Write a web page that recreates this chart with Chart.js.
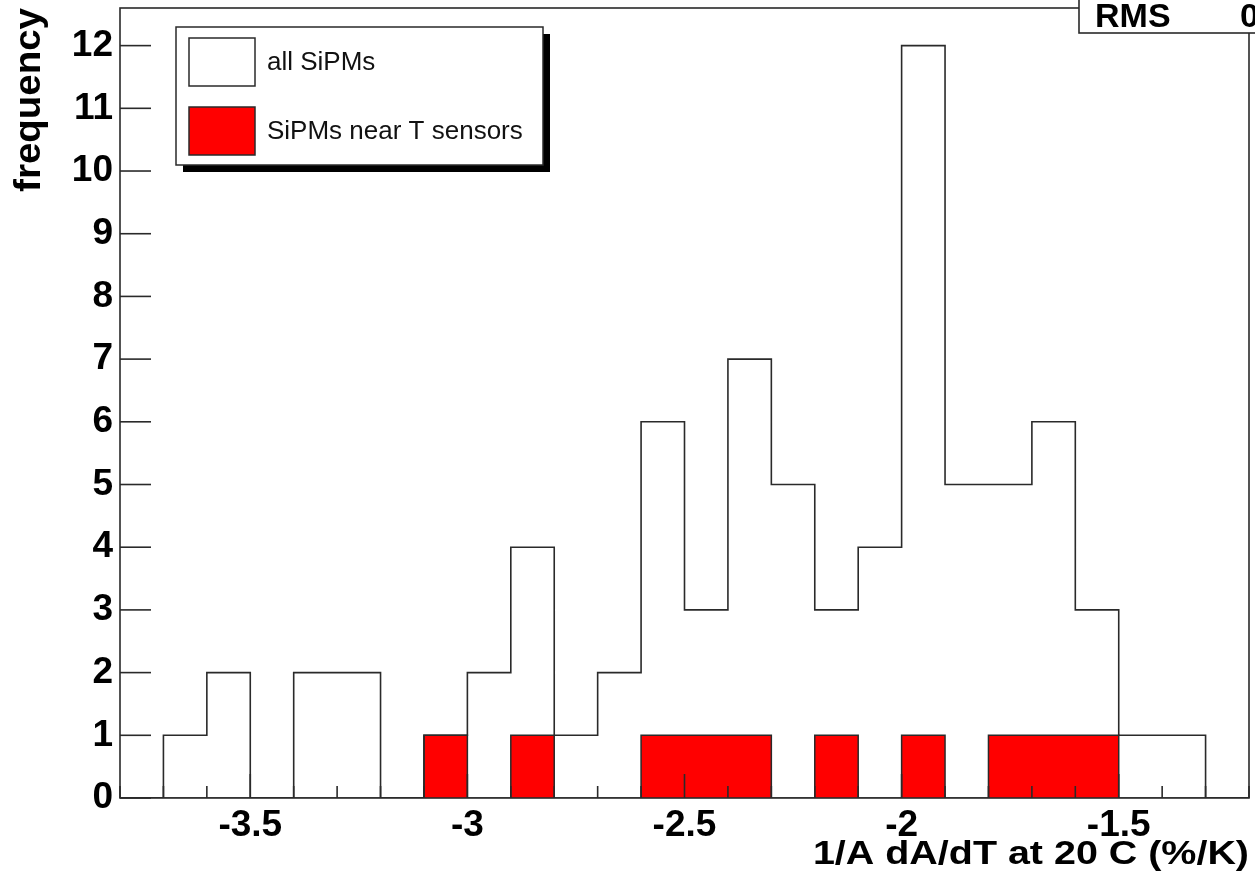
<!DOCTYPE html>
<html>
<head>
<meta charset="utf-8">
<script src="https://cdn.jsdelivr.net/npm/chart.js@4.4.0/dist/chart.umd.min.js"></script>
<style>
html,body{margin:0;padding:0;background:#fff;}
#wrap{width:1255px;height:886px;position:relative;}
</style>
</head>
<body>
<div id="wrap"><canvas id="c" width="1255" height="886"></canvas></div>
<script>
// ---- data ----
const binLow = [-3.8,-3.7,-3.6,-3.5,-3.4,-3.3,-3.2,-3.1,-3.0,-2.9,-2.8,-2.7,-2.6,-2.5,-2.4,-2.3,-2.2,-2.1,-2.0,-1.9,-1.8,-1.7,-1.6,-1.5,-1.4,-1.3];
const binWidth = 0.1;
const allCounts  = [0,1,2,0,2,2,0,1,2,4,1,2,6,3,7,5,3,4,12,5,5,6,3,1,1,0];
const nearCounts = [0,0,0,0,0,0,0,1,0,1,0,0,1,1,1,0,1,0,1,0,1,1,1,0,0,0];
const xTickValues = [-3.5,-3,-2.5,-2,-1.5];
const yTickValues = [0,1,2,3,4,5,6,7,8,9,10,11,12];
const seriesLabels = ['all SiPMs','SiPMs near T sensors'];
const xTitle = '1/A dA/dT at 20 C (%/K)';
const yTitle = 'frequency';
const statsLabel = 'RMS';
const statsValue = '0';

const X_MIN = -3.8, X_MAX = -1.2, Y_MIN = 0, Y_MAX = 12.6;
const LINE = '#2a2a2a';
const FONT = '"Liberation Sans", Arial, Helvetica, sans-serif';

function stepData(counts){
  const pts = binLow.map((x,i)=>({x:x, y:counts[i]}));
  pts.push({x: binLow[binLow.length-1] + binWidth, y: counts[counts.length-1]});
  return pts;
}

const rootPlugin = {
  id:'rootDecor',
  beforeDraw(chart){
    const ctx = chart.ctx;
    ctx.save();
    ctx.fillStyle = '#fff';
    ctx.fillRect(0,0,chart.width,chart.height);
    ctx.restore();
  },
  afterDraw(chart){
    const ctx = chart.ctx, a = chart.chartArea, xs = chart.scales.x, ys = chart.scales.y;
    ctx.save();
    ctx.strokeStyle = LINE;
    ctx.lineWidth = 1.6;
    // y ticks (inside)
    yTickValues.forEach(v=>{
      const py = ys.getPixelForValue(v);
      ctx.beginPath(); ctx.moveTo(a.left, py); ctx.lineTo(a.left+31, py); ctx.stroke();
    });
    // x ticks (inside): minor every 0.1, major every 0.5
    for(let k=0;k<=26;k++){
      const v = X_MIN + k*0.1;
      const px = xs.getPixelForValue(v);
      const major = Math.abs(v*2 - Math.round(v*2)) < 1e-6;
      const len = major ? 24 : 12;
      ctx.beginPath(); ctx.moveTo(px, a.bottom); ctx.lineTo(px, a.bottom-len); ctx.stroke();
    }
    // frame
    ctx.strokeRect(a.left, a.top, a.right-a.left, a.bottom-a.top);

    // stats box (cut at the top right)
    ctx.fillStyle = '#fff';
    ctx.fillRect(1079, -4, 200, 37);
    ctx.strokeRect(1079, -4, 200, 37);
    ctx.fillStyle = '#000';
    ctx.font = 'bold 34px ' + FONT;
    ctx.textBaseline = 'alphabetic';
    ctx.textAlign = 'left';
    ctx.fillText(statsLabel, 1095, 27);
    ctx.fillText(statsValue, 1240, 27);

    // legend with shadow
    const lx = 176, ly = 27, lw = 367, lh = 138;
    ctx.fillStyle = '#000';
    ctx.fillRect(lx+7, ly+7, lw, lh);
    ctx.fillStyle = '#fff';
    ctx.fillRect(lx, ly, lw, lh);
    ctx.lineWidth = 1.5;
    ctx.strokeRect(lx, ly, lw, lh);
    // entry 1
    ctx.fillStyle = '#fff';
    ctx.fillRect(189, 38, 66, 48);
    ctx.strokeRect(189, 38, 66, 48);
    // entry 2
    ctx.fillStyle = '#ff0000';
    ctx.fillRect(189, 107, 66, 48);
    ctx.strokeRect(189, 107, 66, 48);
    ctx.fillStyle = '#111';
    ctx.font = '26px ' + FONT;
    ctx.textBaseline = 'middle';
    ctx.fillText(seriesLabels[0], 267, 63);
    ctx.fillText(seriesLabels[1], 267, 132);

    // axis titles
    ctx.fillStyle = '#000';
    ctx.textBaseline = 'alphabetic';
    ctx.textAlign = 'right';
    ctx.save();
    ctx.font = 'bold 34px ' + FONT;
    ctx.translate(1249, 864);
    ctx.scale(1.16, 1);
    ctx.fillText(xTitle, 0, 0);
    ctx.restore();
    ctx.save();
    ctx.font = 'bold 37px ' + FONT;
    ctx.translate(40, 8);
    ctx.rotate(-Math.PI/2);
    ctx.scale(1.04, 1);
    ctx.textAlign = 'right';
    ctx.fillText(yTitle, 0, 0);
    ctx.restore();

    ctx.restore();
  }
};

const tickFont = {family: FONT, size: 37, weight: 'bold'};
const noPad = s => { s.paddingTop = 0; s.paddingBottom = 0; s.paddingLeft = 0; s.paddingRight = 0; };

new Chart(document.getElementById('c'), {
  type: 'line',
  data: {
    datasets: [
      {
        label: seriesLabels[1],
        data: stepData(nearCounts),
        stepped: true,
        fill: 'origin',
        backgroundColor: '#ff0000',
        borderColor: LINE,
        borderWidth: 1.5,
        pointRadius: 0,
        order: 2
      },
      {
        label: seriesLabels[0],
        data: stepData(allCounts),
        stepped: true,
        fill: false,
        borderColor: LINE,
        borderWidth: 1.6,
        pointRadius: 0,
        order: 1
      }
    ]
  },
  options: {
    responsive: false,
    animation: false,
    devicePixelRatio: 1,
    parsing: false,
    layout: {padding: {left: 0, right: 6, top: 8, bottom: 0}},
    plugins: {legend: {display: false}, tooltip: {enabled: false}, title: {display: false}},
    elements: {line: {tension: 0}},
    scales: {
      x: {
        type: 'linear', min: X_MIN, max: X_MAX,
        grid: {display: false, drawTicks: false},
        border: {display: false},
        afterBuildTicks: s => { s.ticks = xTickValues.map(v => ({value: v})); },
        afterFit: s => { s.height = 88; noPad(s); },
        ticks: {
          padding: 6, color: '#000', font: tickFont, maxRotation: 0, autoSkip: false,
          callback: v => String(Math.round(v*10)/10)
        }
      },
      y: {
        type: 'linear', min: Y_MIN, max: Y_MAX,
        grid: {display: false, drawTicks: false},
        border: {display: false},
        afterBuildTicks: s => { s.ticks = yTickValues.map(v => ({value: v})); },
        afterFit: s => { s.width = 120; noPad(s); },
        ticks: {
          padding: 7, color: '#000', font: tickFont, autoSkip: false,
          callback: v => String(v)
        }
      }
    }
  },
  plugins: [rootPlugin]
});
</script>
</body>
</html>
